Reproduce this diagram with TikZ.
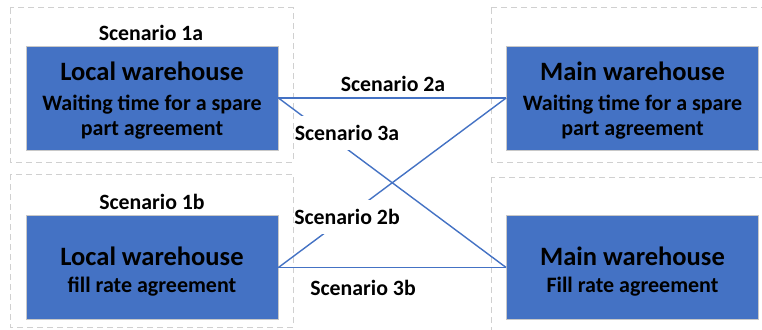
\documentclass[tikz,border=0pt]{standalone}
\usepackage{fontspec}
\setmainfont{Carlito}
\definecolor{officeblue}{HTML}{4472C4}
\definecolor{frame}{HTML}{D0D0D0}
\definecolor{rim}{HTML}{C8C8C8}
\newcommand{\titleline}[2]{{\fontsize{26.5}{31}\selectfont #1}\\[#2]}
\begin{document}
\begin{tikzpicture}[x=1pt,y=-1pt,
  group/.style={draw=frame, line width=1pt, dash pattern=on 6pt off 4pt},
  house/.style={fill=officeblue, draw=rim, line width=0.8pt, minimum width=252pt,
    minimum height=104pt, inner sep=0pt},
  housetext/.style={inner sep=0pt, align=center,
    font=\bfseries\fontsize{22}{25}\selectfont, text=black},
  link/.style={draw=officeblue, line width=1.4pt},
  scen/.style={font=\bfseries\fontsize{21.8}{24}\selectfont, inner sep=0pt},
  cutlabel/.style={scen, fill=white, minimum width=106pt, minimum height=34pt},
]
\useasboundingbox (0,0) rectangle (762,329);
\fill[white] (0,0) rectangle (762,329);

% dashed group frames
\begin{scope}
\clip (0,0) rectangle (762,329);
\draw[group] (10,8) rectangle (293,162);
\draw[group] (491,8) rectangle (775,162);
\draw[group] (10,174) rectangle (293,327);
\draw[group] (491,177) rectangle (775,345);
\end{scope}

% warehouse boxes
\node[house] (lw1) at (152,98) {};
\node[house] (mw1) at (632.5,98) {};
\node[house] (lw2) at (152,267.5) {};
\node[house] (mw2) at (632.5,267.5) {};

% box captions
\node[housetext] (lw1t) at ([yshift=-2.5pt]lw1.center) {\titleline{Local warehouse}{5pt}
  Waiting time for a spare\\ part agreement};
\node[housetext] (mw1t) at ([yshift=-2.5pt]mw1.center) {\titleline{Main warehouse}{5pt}
  Waiting time for a spare\\ part agreement};
\node[housetext] (lw2t) at ([yshift=-4pt]lw2.center) {\titleline{Local warehouse}{2pt}
  fill rate agreement};
\node[housetext] (mw2t) at ([yshift=-4pt]mw2.center) {\titleline{Main warehouse}{2pt}
  Fill rate agreement};

% scenario connectors
\draw[link] (lw1.east) -- (mw1.west);
\draw[link] (lw1.east) -- (mw2.west);
\draw[link] (lw2.east) -- (mw1.west);
\draw[link] (lw2.east) -- (mw2.west);

% scenario labels
\node[scen] (s1a) at (151,32.5) {Scenario 1a};
\node[scen] (s1b) at (152,202) {Scenario 1b};
\node[scen] (s2a) at (393,83.5) {Scenario 2a};
\node[cutlabel] (s3a) at (347,133) {Scenario 3a};
\node[cutlabel] (s2b) at (347,217) {Scenario 2b};
\node[scen] (s3b) at (363,288) {Scenario 3b};
\end{tikzpicture}
\end{document}
